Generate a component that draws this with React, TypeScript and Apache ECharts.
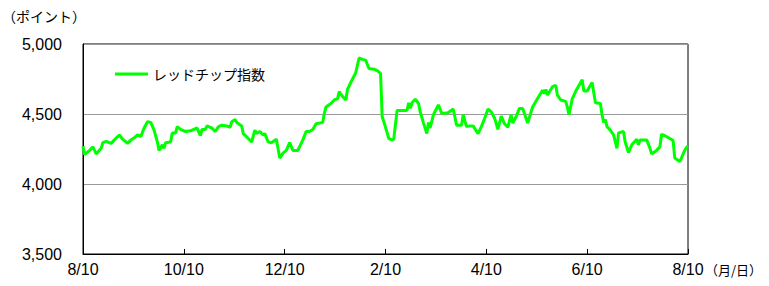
import React, { useEffect, useRef } from "react";
import * as echarts from "echarts";

// days since 2017/8/10
const days = [
  0, 1, 2, 4, 6, 7, 8, 11, 12, 14, 17, 19, 22, 24, 27, 29, 31, 33, 35, 37, 39, 41, 43, 45, 46, 48, 49, 50, 53, 54, 56, 57, 59, 62, 65, 69, 71, 72, 74,
  75, 77, 78, 80, 82, 84, 87, 89, 90, 92, 93, 96, 97, 100, 102, 104, 105, 107, 109, 110, 112, 114, 117, 119, 121, 123, 125, 127, 130, 133, 135, 137, 139, 141, 143, 145,
  146, 147, 150, 152, 154, 155, 157, 159, 160, 162, 165, 167, 169, 171, 173, 176, 178, 180, 181, 182, 185, 187, 188, 190, 193, 196, 197, 198, 199, 201, 203, 204, 206, 208, 209, 210, 212, 215, 217, 219,
  221, 224, 226, 229, 230, 232, 234, 236, 239, 241, 243, 245, 247, 249, 251, 253, 255, 257, 259, 260, 262, 264, 266, 269, 272, 275, 278, 279, 280, 281, 284, 286, 287, 289,
  292, 293, 294, 296, 298, 302, 303, 305, 306, 308, 310, 313, 314, 315, 316, 317, 319, 321, 323, 324, 327, 328, 330, 332, 335, 336, 337, 341, 343, 344, 347, 349, 350, 352, 355, 357, 358, 361, 362, 364, 365, 366,
];

const values = [
  4270, 4210, 4220, 4240, 4265, 4240, 4215, 4255, 4295, 4305, 4290, 4315, 4350, 4320, 4290, 4315, 4330, 4350, 4340, 4400, 4445, 4440, 4385, 4300, 4240, 4280, 4255, 4295, 4300, 4365, 4365, 4410, 4390, 4375, 4380, 4400, 4345, 4390, 4390,
  4415, 4405, 4400, 4375, 4410, 4420, 4415, 4405, 4445, 4460, 4440, 4415, 4360, 4325, 4300, 4385, 4360, 4375, 4350, 4360, 4300, 4295, 4320, 4185, 4220, 4240, 4295, 4240, 4240, 4315, 4375, 4375, 4390, 4430, 4435, 4440,
  4505, 4550, 4575, 4600, 4610, 4660, 4625, 4600, 4675, 4725, 4795, 4900, 4890, 4885, 4825, 4820, 4810, 4790, 4480, 4445, 4325, 4315, 4320, 4525, 4525, 4525, 4580, 4540, 4580, 4605, 4575, 4515, 4435, 4360, 4440, 4400, 4495, 4565, 4505, 4505,
  4510, 4535, 4420, 4420, 4495, 4410, 4415, 4415, 4360, 4410, 4470, 4535, 4515, 4470, 4390, 4485, 4430, 4405, 4495, 4435, 4480, 4540, 4540, 4435, 4550, 4610, 4670, 4645, 4675, 4635, 4695, 4705, 4635, 4600,
  4590, 4550, 4495, 4610, 4660, 4745, 4665, 4665, 4685, 4725, 4580, 4575, 4495, 4440, 4460, 4410, 4385, 4350, 4255, 4365, 4375, 4300, 4225, 4280, 4320, 4280, 4315, 4315, 4255, 4215, 4240, 4265, 4355, 4345, 4325, 4310, 4185, 4160, 4185, 4240, 4260, 4270,
];

const xTickLabels = ["8/10", "10/10", "12/10", "2/10", "4/10", "6/10", "8/10"];
const seriesName = "レッドチップ指数";

export default function App() {
  const ref = useRef<HTMLDivElement>(null);
  useEffect(() => {
    if (!ref.current) return;
    const chart = echarts.init(ref.current, null, { renderer: "svg" });
    const numFont = "'Liberation Sans', Arial, sans-serif";
    const jpFont = "'Noto Sans CJK JP', sans-serif";
    chart.setOption({
      animation: false,
      backgroundColor: "#fff",
      grid: {
        left: 83,
        right: 81,
        top: 44,
        bottom: 32,
        show: true,
        borderColor: "#000",
        borderWidth: 1,
        backgroundColor: "transparent",
      },
      legend: {
        left: 110,
        top: 62,
        icon: "rect",
        itemWidth: 33,
        itemHeight: 3,
        textStyle: { fontSize: 14, fontFamily: jpFont, color: "#000" },
        data: [seriesName],
      },
      xAxis: {
        type: "value",
        min: 0,
        max: 366,
        interval: 61,
        axisLine: { show: true, lineStyle: { color: "#000", width: 1 } },
        axisTick: { show: true, inside: true, length: 5, lineStyle: { color: "#000" } },
        splitLine: { show: false },
        axisLabel: {
          margin: 7,
          fontSize: 16,
          fontFamily: numFont,
          color: "#000",
          showMinLabel: true,
          showMaxLabel: true,
          formatter: (v: number) => xTickLabels[Math.round(v / 61)] ?? "",
        },
      },
      yAxis: {
        type: "value",
        min: 3500,
        max: 5000,
        interval: 500,
        axisLine: { show: true, lineStyle: { color: "#000", width: 1 } },
        axisTick: { show: false },
        splitLine: { show: true, lineStyle: { color: "#999", width: 1 } },
        axisLabel: {
          margin: 21,
          fontSize: 16,
          fontFamily: numFont,
          color: "#000",
          formatter: (v: number) => v.toLocaleString("en-US"),
        },
      },
      graphic: [
        {
          type: "text",
          left: 2,
          top: 9,
          style: { text: "（ポイント）", fontSize: 14, fontFamily: jpFont, fill: "#000" },
        },
        {
          type: "text",
          left: 705,
          top: 263,
          style: { text: "（月/日）", fontSize: 13, fontFamily: jpFont, fill: "#000" },
        },
      ],
      series: [
        {
          name: seriesName,
          type: "line",
          data: days.map((d, i) => [d, values[i]]),
          showSymbol: false,
          symbol: "none",
          lineStyle: { color: "#00ff00", width: 3 },
          itemStyle: { color: "#00ff00" },
        },
      ],
    });
    return () => chart.dispose();
  }, []);
  return <div ref={ref} style={{ position: "fixed", left: 0, top: 0, width: 769, height: 286 }} />;
}
